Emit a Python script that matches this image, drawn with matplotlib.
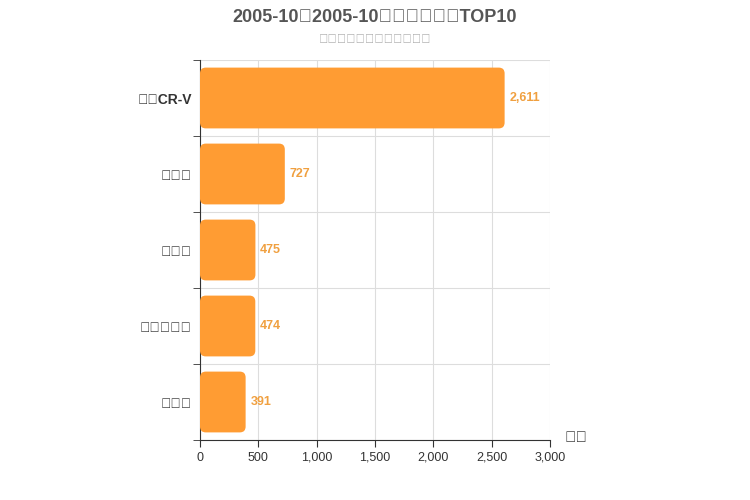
import matplotlib
matplotlib.use("Agg")
import matplotlib.pyplot as plt
from matplotlib.patches import FancyBboxPatch

plt.rcParams['font.family'] = 'sans-serif'
plt.rcParams['font.sans-serif'] = ['Liberation Sans', 'Noto Sans CJK SC', 'Noto Sans CJK JP', 'DejaVu Sans']

categories = ["本田CR-V", "帕拉丁", "普拉多", "兰德酷路泽", "帕杰罗"]
values = [2611, 727, 475, 474, 391]
xticks = [0, 500, 1000, 1500, 2000, 2500, 3000]
xticklabels = ["0", "500", "1,000", "1,500", "2,000", "2,500", "3,000"]

fig = plt.figure(figsize=(7.5, 5), dpi=100)
ax = fig.add_axes([200/750, 60/500, 350/750, 380/500])
n = len(categories)
ax.set_xlim(0, 3000)
ax.set_ylim(n - 0.5, -0.5)

bars = ax.barh(range(n), values, height=0.8, color="none")
aspect = (n / 380) / (3000 / 350)
for b, v in zip(bars, values):
    p = FancyBboxPatch((b.get_x(), b.get_y()), b.get_width(), b.get_height(),
                       boxstyle="round,pad=0,rounding_size=50", mutation_aspect=aspect,
                       fc="#ff9c33", ec="none", zorder=3)
    ax.add_patch(p)
    ax.text(v + 40, b.get_y() + b.get_height() / 2, f"{v:,}", va="center", ha="left",
            color="#f0a040", fontsize=9, fontweight="bold", zorder=4)

ax.set_yticks(range(n))
ax.set_yticklabels(categories, fontsize=10, fontweight="bold", color="#333333")
ax.set_yticks([i - 0.5 for i in range(n + 1)], minor=True)
ax.tick_params(axis="y", which="major", length=0, pad=6)
ax.tick_params(axis="y", which="minor", length=5, color="#333333")
ax.set_xticks(xticks)
ax.set_xticklabels(xticklabels, fontsize=9, color="#333333")
ax.tick_params(axis="x", length=5, color="#333333")

ax.grid(axis="x", color="#dddddd", lw=0.8, zorder=0)
for i in range(n + 1):
    ax.axhline(i - 0.5, color="#dddddd", lw=0.8, zorder=0)
for s in ["top", "right"]:
    ax.spines[s].set_visible(False)
for s in ["left", "bottom"]:
    ax.spines[s].set_color("#333333")

fig.text(0.5, 0.965, "2005-10至2005-10日系车型销量TOP10", ha="center", va="center",
         fontsize=13, fontweight="bold", color="#555555")
fig.text(0.5, 0.92, "数据整理：盖世汽车研究院", ha="center", va="center",
         fontsize=9, color="#aaaaaa")
fig.text(565/750, 1 - 438/500, "销量", ha="left", va="center", fontsize=11,
         fontweight="bold", color="#333333")

fig.savefig("out.png", dpi=100)
